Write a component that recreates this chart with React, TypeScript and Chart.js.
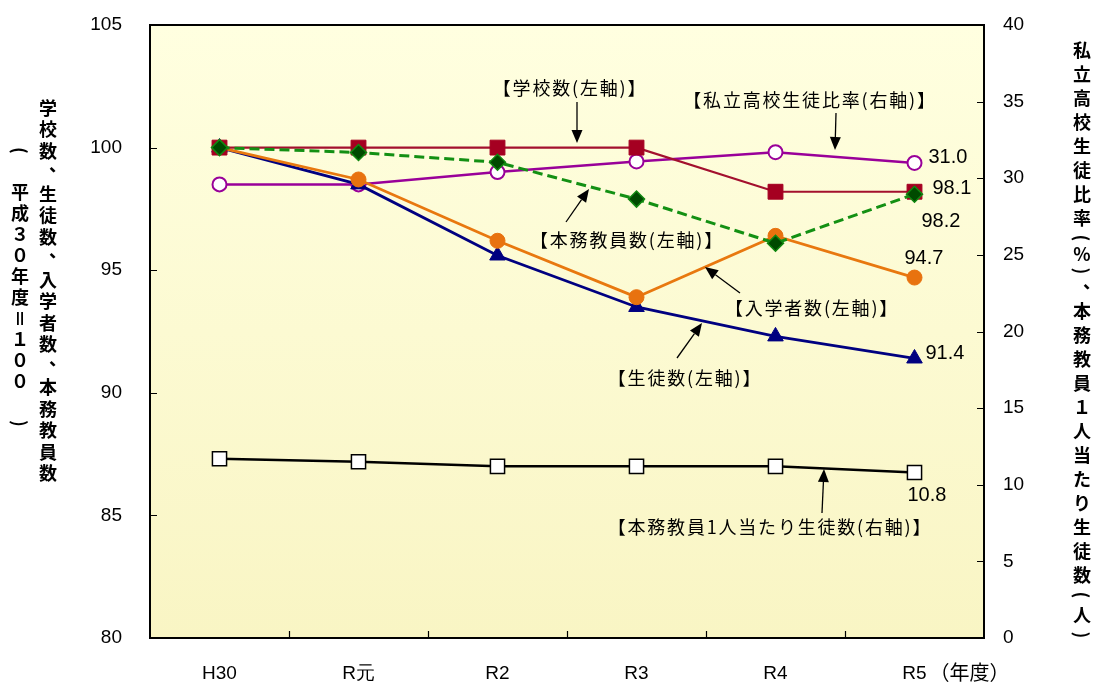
import React, { useEffect, useRef } from 'react';
import { Chart, registerables } from 'chart.js';

Chart.register(...registerables);

// ---------- data ----------
const categories = ['H30', 'R元', 'R2', 'R3', 'R4', 'R5'];
const schools = [100, 100, 100, 100, 98.2, 98.2];
const teachers = [100, 99.8, 99.4, 97.9, 96.1, 98.1];
const entrants = [100, 98.7, 96.2, 93.9, 96.4, 94.7];
const students = [100, 98.5, 95.6, 93.5, 92.3, 91.4];
const privateRatio = [29.6, 29.6, 30.4, 31.1, 31.7, 31.0];
const studentsPerTeacher = [11.7, 11.5, 11.2, 11.2, 11.2, 10.8];
const leftTicks = [80, 85, 90, 95, 100, 105];
const rightTicks = [0, 5, 10, 15, 20, 25, 30, 35, 40];

const leftTitle = '学校数、生徒数、入学者数、本務教員数';
const leftSubTitle = '(　平成３０年度＝１００　)';
const rightTitle = '私立高校生徒比率(%)、本務教員１人当たり生徒数(人)';
const yearUnit = '（年度）';

// annotation texts with arrows (layout only)
const annotations = [
  { text: '【学校数(左軸)】', cx: 570, cy: 88, from: [577, 102], to: [577, 143] },
  { text: '【私立高校生徒比率(右軸)】', cx: 810, cy: 100, from: [836, 113], to: [835, 150] },
  { text: '【本務教員数(左軸)】', cx: 627, cy: 240, from: [566, 222], to: [589, 189] },
  { text: '【入学者数(左軸)】', cx: 812, cy: 308, from: [740, 293], to: [705, 267] },
  { text: '【生徒数(左軸)】', cx: 685, cy: 378, from: [677, 358], to: [702, 323] },
  { text: '【本務教員1人当たり生徒数(右軸)】', cx: 770, cy: 527, from: [822, 513], to: [824, 469] },
];

const TICK_FONT = "'Liberation Sans', Arial, sans-serif";
const JP_FONT = "'Noto Sans CJK JP', 'Noto Sans', sans-serif";

function drawArrow(ctx: CanvasRenderingContext2D, from: number[], to: number[]) {
  const [x1, y1] = from;
  const [x2, y2] = to;
  const ang = Math.atan2(y2 - y1, x2 - x1);
  const hl = 13;
  const hw = 5.5;
  const bx = x2 - Math.cos(ang) * hl;
  const by = y2 - Math.sin(ang) * hl;
  ctx.beginPath();
  ctx.moveTo(x1, y1);
  ctx.lineTo(bx, by);
  ctx.strokeStyle = '#000';
  ctx.lineWidth = 1.3;
  ctx.stroke();
  ctx.beginPath();
  ctx.moveTo(x2, y2);
  ctx.lineTo(bx + Math.sin(ang) * hw, by - Math.cos(ang) * hw);
  ctx.lineTo(bx - Math.sin(ang) * hw, by + Math.cos(ang) * hw);
  ctx.closePath();
  ctx.fillStyle = '#000';
  ctx.fill();
}

function drawVertical(
  ctx: CanvasRenderingContext2D,
  text: string,
  x: number,
  yTop: number,
  cell: (ch: string) => number
) {
  let y = yTop;
  ctx.textAlign = 'center';
  ctx.textBaseline = 'middle';
  for (const ch of Array.from(text)) {
    const h = cell(ch);
    const cy = y + h / 2;
    if (ch === '(' || ch === ')' || ch === '＝') {
      ctx.save();
      ctx.translate(x, cy);
      ctx.rotate(Math.PI / 2);
      ctx.fillText(ch, 0, 0);
      ctx.restore();
    } else if (ch === '、') {
      ctx.fillText(ch, x + 10, cy - 8);
    } else if (ch !== '　') {
      ctx.fillText(ch, x, cy);
    }
    y += h;
  }
}

const decorPlugin = {
  id: 'decor',
  beforeDraw(chart: any) {
    const { ctx, chartArea: a } = chart;
    ctx.save();
    const g = ctx.createLinearGradient(a.left, a.top, a.left, a.bottom);
    g.addColorStop(0, '#FFFFE0');
    g.addColorStop(1, '#F9F5C4');
    ctx.fillStyle = g;
    ctx.fillRect(a.left, a.top, a.right - a.left, a.bottom - a.top);
    ctx.restore();
  },
  afterDatasetsDraw(chart: any) {
    const { ctx, chartArea: a, scales } = chart;
    ctx.save();
    // tick marks (inward)
    ctx.strokeStyle = '#000';
    ctx.lineWidth = 1.2;
    ctx.beginPath();
    for (const v of leftTicks) {
      const y = Math.round(scales.y.getPixelForValue(v)) + 0.5;
      ctx.moveTo(a.left, y);
      ctx.lineTo(a.left + 7, y);
    }
    for (const v of rightTicks) {
      const y = Math.round(scales.y1.getPixelForValue(v)) + 0.5;
      ctx.moveTo(a.right, y);
      ctx.lineTo(a.right - 7, y);
    }
    for (let i = 0; i < categories.length - 1; i++) {
      const x = Math.round((scales.x.getPixelForValue(i) + scales.x.getPixelForValue(i + 1)) / 2) + 0.5;
      ctx.moveTo(x, a.bottom);
      ctx.lineTo(x, a.bottom - 7);
    }
    ctx.stroke();
    // border
    ctx.lineWidth = 2;
    ctx.strokeRect(a.left, a.top, a.right - a.left, a.bottom - a.top);

    // value labels on the last point of each series
    ctx.font = `20px ${TICK_FONT}`;
    ctx.fillStyle = '#000';
    ctx.textAlign = 'left';
    ctx.textBaseline = 'middle';
    chart.data.datasets.forEach((ds: any, i: number) => {
      const meta = chart.getDatasetMeta(i);
      const last = meta.data[meta.data.length - 1];
      const v = ds.data[ds.data.length - 1];
      const [dx, dy] = ds.labelOffset;
      ctx.fillText(v.toFixed(1), last.x + dx, last.y + dy);
    });

    // annotations
    ctx.font = `18px ${JP_FONT}`;
    (ctx as any).letterSpacing = '1.8px';
    ctx.textAlign = 'center';
    for (const an of annotations) {
      ctx.fillText(an.text, an.cx, an.cy);
      drawArrow(ctx, an.from, an.to);
    }
    (ctx as any).letterSpacing = '0px';

    // year unit next to last category
    ctx.font = `20px ${JP_FONT}`;
    ctx.textAlign = 'left';
    ctx.textBaseline = 'middle';
    ctx.fillText(yearUnit, scales.x.getPixelForValue(categories.length - 1) + 15, 672);

    // axis titles (vertical)
    ctx.fillStyle = '#000';
    ctx.font = `bold 18px ${JP_FONT}`;
    drawVertical(ctx, leftTitle, 48, 97, () => 21.5);
    drawVertical(ctx, leftSubTitle, 20, 140, () => 21);
    drawVertical(ctx, rightTitle, 1082, 38, (ch) =>
      ch === '(' || ch === ')' ? 16 : ch === '%' ? 17 : ch === '、' ? 20 : 24
    );
    ctx.restore();
  },
};

export default function App() {
  const ref = useRef<HTMLCanvasElement | null>(null);

  useEffect(() => {
    if (!ref.current) return;
    const tickFont = { family: TICK_FONT, size: 19 };
    const fitV = (w: number) => (s: any) => {
      s.width = w;
      s.paddingTop = 0;
      s.paddingBottom = 0;
    };
    const chart = new Chart(ref.current, {
      type: 'line',
      data: {
        labels: categories,
        datasets: [
          {
            label: '本務教員数',
            data: teachers,
            yAxisID: 'y',
            borderColor: '#139013',
            borderWidth: 3,
            borderDash: [10, 5],
            pointStyle: 'rectRot',
            pointRadius: 8,
            pointBackgroundColor: '#004A00',
            pointBorderColor: '#108810',
            pointBorderWidth: 1.5,
            labelOffset: [18, -6],
          } as any,
          {
            label: '学校数',
            data: schools,
            yAxisID: 'y',
            borderColor: '#A3102E',
            borderWidth: 2.2,
            pointStyle: 'rect',
            pointRadius: 10.5,
            pointBackgroundColor: '#A50021',
            pointBorderColor: '#A50021',
            pointBorderWidth: 1,
            labelOffset: [7, 30],
          },
          {
            label: '入学者数',
            data: entrants,
            yAxisID: 'y',
            borderColor: '#E8780F',
            borderWidth: 2.8,
            pointStyle: 'circle',
            pointRadius: 7.5,
            pointBackgroundColor: '#E8720F',
            pointBorderColor: '#E8720F',
            pointBorderWidth: 1,
            labelOffset: [-10, -19],
          },
          {
            label: '生徒数',
            data: students,
            yAxisID: 'y',
            borderColor: '#000080',
            borderWidth: 2.8,
            pointStyle: 'triangle',
            pointRadius: 9,
            pointBackgroundColor: '#000080',
            pointBorderColor: '#000080',
            pointBorderWidth: 1,
            labelOffset: [11, -5],
          },
          {
            label: '私立高校生徒比率',
            data: privateRatio,
            yAxisID: 'y1',
            borderColor: '#990099',
            borderWidth: 2.5,
            pointStyle: 'circle',
            pointRadius: 7,
            pointBackgroundColor: '#FFFFFF',
            pointBorderColor: '#990099',
            pointBorderWidth: 2,
            labelOffset: [14, -5],
          },
          {
            label: '本務教員1人当たり生徒数',
            data: studentsPerTeacher,
            yAxisID: 'y1',
            borderColor: '#000000',
            borderWidth: 2.5,
            pointStyle: 'rect',
            pointRadius: 10,
            pointBackgroundColor: '#FFFFFF',
            pointBorderColor: '#000000',
            pointBorderWidth: 1.5,
            labelOffset: [-7, 23],
          },
        ] as any,
      },
      options: {
        responsive: false,
        animation: false,
        layout: { padding: { top: 25, left: 0, right: 0, bottom: 0 } },
        plugins: {
          legend: { display: false },
          tooltip: { enabled: false },
          title: { display: false },
        },
        elements: { line: { tension: 0 } },
        scales: {
          x: {
            type: 'category',
            offset: true,
            grid: { display: false },
            border: { display: false },
            ticks: {
              font: tickFont,
              color: '#000',
              padding: 16,
              maxRotation: 0,
              autoSkip: false,
            },
            afterFit: (s: any) => {
              s.height = 50;
              s.paddingLeft = 0;
              s.paddingRight = 0;
            },
          },
          y: {
            position: 'left',
            min: 80,
            max: 105,
            grid: { display: false },
            border: { display: false },
            afterBuildTicks: (s: any) => {
              s.ticks = leftTicks.map((v) => ({ value: v }));
            },
            ticks: { font: tickFont, color: '#000', padding: 20 },
            afterFit: fitV(150),
          },
          y1: {
            position: 'right',
            min: 0,
            max: 40,
            grid: { display: false },
            border: { display: false },
            afterBuildTicks: (s: any) => {
              s.ticks = rightTicks.map((v) => ({ value: v }));
            },
            ticks: { font: tickFont, color: '#000', padding: 11 },
            afterFit: fitV(115),
          },
        },
      } as any,
      plugins: [decorPlugin as any],
    });
    return () => chart.destroy();
  }, []);

  return (
    <div style={{ position: 'fixed', left: 0, top: 0, width: 1099, height: 688, background: '#fff' }}>
      <canvas ref={ref} width={1099} height={688} style={{ display: 'block' }} />
    </div>
  );
}
